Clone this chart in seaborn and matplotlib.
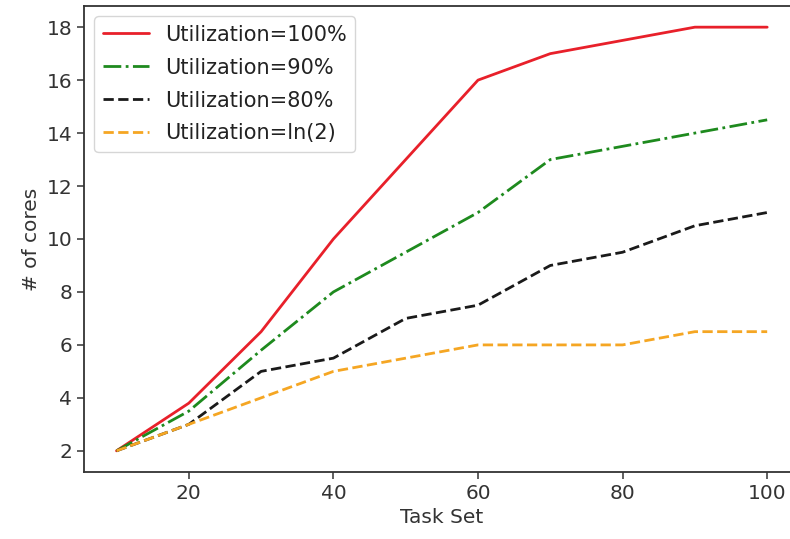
import matplotlib
matplotlib.use("Agg")
import matplotlib.pyplot as plt
import seaborn as sns

task_set = [10, 20, 30, 40, 50, 60, 70, 80, 90, 100]
util_100 = [2, 3.8, 6.5, 10, 13, 16, 17, 17.5, 18, 18]
util_90 = [2, 3.5, 5.8, 8, 9.5, 11, 13, 13.5, 14, 14.5]
util_80 = [2, 3, 5, 5.5, 7, 7.5, 9, 9.5, 10.5, 11]
util_ln2 = [2, 3, 4, 5, 5.5, 6, 6, 6, 6.5, 6.5]

labels = ["Utilization=100%", "Utilization=90%", "Utilization=80%", "Utilization=ln(2)"]

sns.set_style("ticks")
plt.rcParams["font.family"] = ["DejaVu Sans"]

fig = plt.figure(figsize=(7.9, 5.39), dpi=100)
ax = fig.add_axes([0.1063, 0.1243, 0.906, 0.8646])

series = [
    (util_100, "#e8202a", "-"),
    (util_90, "#1e8a1e", "-."),
    (util_80, "#1a1a1a", "--"),
    (util_ln2, "#f5a623", "--"),
]
for (vals, color, ls), lab in zip(series, labels):
    sns.lineplot(x=task_set, y=vals, color=color, linestyle=ls, linewidth=2.0,
                 label=lab, ax=ax)

ax.set_yticks(range(2, 19, 2))
ax.set_xticks([20, 40, 60, 80, 100])
ax.tick_params(labelsize=14.5, length=5, width=1.1, colors="#333333")
ax.set_xlabel("Task Set", fontsize=14.5, color="#333333")
ax.set_ylabel("# of cores", fontsize=14.5, color="#333333")
for sp in ax.spines.values():
    sp.set_color("#333333")
    sp.set_linewidth(1.3)
# the source image is cut off before the right spine
ax.spines["right"].set_visible(False)
leg = ax.legend(loc="upper left", fontsize=15, handlelength=2.2,
                labelspacing=0.62, borderaxespad=0.5)
for t in leg.get_texts():
    t.set_color("#222222")

fig.savefig("out.png", dpi=100)
